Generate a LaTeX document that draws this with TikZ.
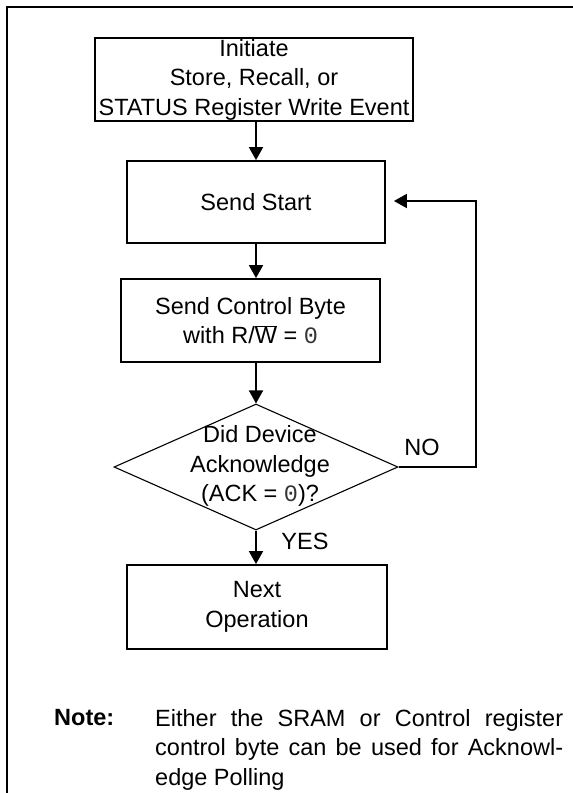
\documentclass[tikz,border=0pt]{standalone}
\usepackage{fontspec}
\setmainfont{Liberation Sans}
\newfontfamily\zerofont{Liberation Mono}
\usetikzlibrary{arrows.meta,shapes.geometric}
\newcommand{\zr}{{\zerofont\color{black!80}0}}
\begin{document}
\begin{tikzpicture}[x=1pt,y=-1pt,
  box/.style={draw,line width=1.8pt,inner sep=0pt,minimum height=83pt,align=center,
    font=\fontsize{23.5}{29.5}\selectfont},
  dia/.style={draw,line width=1.1pt,diamond,inner sep=0pt,minimum width=284pt,minimum height=126pt},
  lbl/.style={font=\fontsize{23.5}{29.5}\selectfont,inner sep=0pt,align=center},
  arr/.style={line width=1.8pt,-{Triangle[width=14pt,length=13pt]}}]
\useasboundingbox (0,0) rectangle (573,793);
\draw[line width=2pt] (7,793) -- (7,7) -- (573,7);
\node[box,minimum width=318pt] (b1) at (254,79.5) {Initiate\\Store, Recall, or\\STATUS Register Write Event};
\node[box,minimum width=258pt,minimum height=82pt] (b2) at (256,202) {Send Start};
\node[box,minimum width=259pt] (b3) at (250.5,320.5) {Send Control Byte\\with R/$\overline{\hbox{W}}$ = \zr};
\node[dia] (d) at (256,467) {};
\node[lbl] (dt) at (260,466) {Did Device\\Acknowledge\\(ACK = \zr)?};
\node[box,minimum width=260pt,minimum height=84pt] (b4) at (257,607) {Next\\Operation};
\coordinate (lc) at (476,201);
\draw[arr] (b2.north |- b1.south) -- (b2.north);
\draw[arr] (b2.south) -- (b2.south |- b3.north);
\draw[arr] (d.north |- b3.south) -- (d.north);
\draw[arr] (d.south) -- (d.south |- b4.north);
\draw[arr,shorten >=8pt] (d.east) -| (lc) -- (lc -| b2.east);
\node[lbl] (no) at (422,447) {NO};
\node[lbl] (yes) at (305,541) {YES};
\node[lbl,font=\fontsize{23.5}{29.5}\selectfont\bfseries,anchor=base west] (nt) at (54,725) {Note:};
\node[lbl,anchor=north west,text width=408pt,align=justify] (ntx) at (155,709)
  {Either the SRAM or Control register\linebreak control byte can be used for Acknowl-\linebreak{}edge Polling};
\end{tikzpicture}
\end{document}
